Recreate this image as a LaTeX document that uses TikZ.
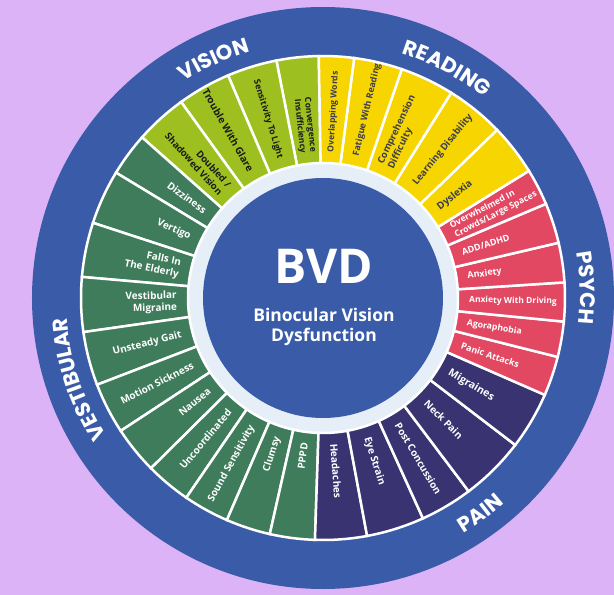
\documentclass[tikz,border=0pt]{standalone}
\usepackage{fontspec}
\setmainfont{Open Sans}
\newfontfamily\ringfont{Poppins}
\usetikzlibrary{decorations.text}

\definecolor{bg}{HTML}{DDB3F7}
\definecolor{ringblue}{HTML}{3A5CA8}
\definecolor{lightring}{HTML}{E6EEF8}
\definecolor{vis}{HTML}{9DBF1F}
\definecolor{read}{HTML}{F6D500}
\definecolor{psy}{HTML}{E24862}
\definecolor{pain}{HTML}{3A3371}
\definecolor{vest}{HTML}{3F7C5B}
\definecolor{visTxt}{HTML}{1A1A1A}
\definecolor{readTxt}{HTML}{3D3D52}

\begin{document}
\begin{tikzpicture}[
    seglabel/.style={inner sep=0pt},
    ringlabel/.style={decorate, decoration={text along path, text align=center, text color=white}}]
    \useasboundingbox (-323pt,-297pt) rectangle (291pt,298pt);

    % Фон и внешнее кольцо
    \fill[bg] (-323pt,-297pt) rectangle (291pt,298pt);
    \fill[ringblue] (0,0) circle[radius=291pt];
    \fill[lightring] (0,0) circle[radius=140pt];

    % Сектора с подписями
    \foreach \angA/\angB/\col/\tcol/\fs/\lbl [count=\i] in {
        91/101.1/vis/visTxt/8.5/{Convergence\\Insufficiency},
        101.1/113.1/vis/visTxt/8.7/{Sensitivity To Light},
        113.1/125.9/vis/visTxt/10/{Trouble With Glare},
        125.9/138.4/vis/visTxt/9.5/{Doubled /\\Shadowed Vision},
        138.4/148.8/vest/white/10/{Dizziness},
        148.8/161.9/vest/white/10/{Vertigo},
        161.9/175/vest/white/10/{Falls In\\The Elderly},
        175/188.1/vest/white/10/{Vestibular\\Migraine},
        188.1/201/vest/white/10/{Unsteady Gait},
        201/213.3/vest/white/10/{Motion Sickness},
        213.3/224.7/vest/white/10/{Nausea},
        224.7/235.6/vest/white/10/{Uncoordinated},
        235.6/246.6/vest/white/10/{Sound Sensitivity},
        246.6/257.3/vest/white/10/{Clumsy},
        257.3/268.1/vest/white/10/{PPPD},
        268.1/280.5/pain/white/10/{Headaches},
        280.5/294.4/pain/white/10/{Eye Strain},
        294.4/307/pain/white/10/{Post Concussion},
        307/322.6/pain/white/10/{Neck Pain},
        322.6/336.4/pain/white/10.5/{Migraines},
        336.4/345.9/psy/white/9/{Panic Attacks},
        345.9/354.4/psy/white/8.7/{Agoraphobia},
        354.4/363.7/psy/white/8.5/{Anxiety With Driving},
        363.7/373.2/psy/white/9/{Anxiety},
        373.2/382.9/psy/white/9/{ADD/ADHD},
        382.9/391.7/psy/white/8.7/{Overwhelmed In\\Crowds/Large Spaces},
        391.7/404/read/readTxt/10/{Dyslexia},
        404/418/read/readTxt/9.5/{Learning Disability},
        418/431/read/readTxt/9.5/{Comprehension\\Difficulty},
        431/442.6/read/readTxt/8.9/{Fatigue With Reading},
        442.6/451/read/readTxt/8.5/{Overlapping Words}}
    {
        \filldraw[fill=\col, draw=white, line width=2.5pt]
            (\angA:135pt) -- (\angA:242pt)
            arc[start angle=\angA, end angle=\angB, radius=242pt]
            -- (\angB:135pt)
            arc[start angle=\angB, end angle=\angA, radius=135pt] -- cycle;
        \pgfmathsetmacro\mid{(\angA+\angB)/2}
        \pgfmathsetmacro\lsk{1.2*\fs}
        \pgfmathtruncatemacro\lft{and(mod(\mid,360)>90, mod(\mid,360)<270)}
        \ifnum\lft=1
            \node[seglabel, text=\tcol, rotate=\mid+180, anchor=east, align=right,
                  font=\bfseries\fontsize{\fs}{\lsk}\selectfont] (seg\i) at (\mid:146pt) {\lbl};
        \else
            \node[seglabel, text=\tcol, rotate=\mid, anchor=west, align=left,
                  font=\bfseries\fontsize{\fs}{\lsk}\selectfont] (seg\i) at (\mid:146pt) {\lbl};
        \fi
    }

    % Центр
    \fill[ringblue] (0,0) circle[radius=120pt];
    \node[font=\bfseries\fontsize{48}{48}\selectfont, text=white, anchor=base] (bvd) at (1pt,15pt) {BVD};
    \node[font=\bfseries\fontsize{17.5}{20}\selectfont, text=white, anchor=base] (bvdtop) at (1pt,-23pt) {Binocular Vision};
    \node[font=\bfseries\fontsize{17.5}{20}\selectfont, text=white, anchor=base] (bvdbot) at (1pt,-43pt) {Dysfunction};

    % Названия групп по кольцу
    \path[ringlabel, decoration={text={|\ringfont\bfseries\fontsize{21}{21}\selectfont|VISION}}]
        (154.6:257pt) arc[start angle=154.6, end angle=74.6, radius=257pt];
    \path[ringlabel, decoration={text={|\ringfont\bfseries\fontsize{21}{21}\selectfont|READING}}]
        (101.7:257pt) arc[start angle=101.7, end angle=21.7, radius=257pt];
    \path[ringlabel, decoration={text={|\ringfont\bfseries\fontsize{21}{21}\selectfont|PSYCH}}]
        (42.2:257pt) arc[start angle=42.2, end angle=-37.8, radius=257pt];
    \path[ringlabel, decoration={text={|\ringfont\bfseries\fontsize{21}{21}\selectfont|PAIN}}]
        (-93.8:274pt) arc[start angle=-93.8, end angle=-13.8, radius=274pt];
    \path[ringlabel, decoration={text={|\ringfont\bfseries\fontsize{21}{21}\selectfont|VESTIBULAR}}]
        (248.4:257pt) arc[start angle=248.4, end angle=148.4, radius=257pt];
\end{tikzpicture}
\end{document}
